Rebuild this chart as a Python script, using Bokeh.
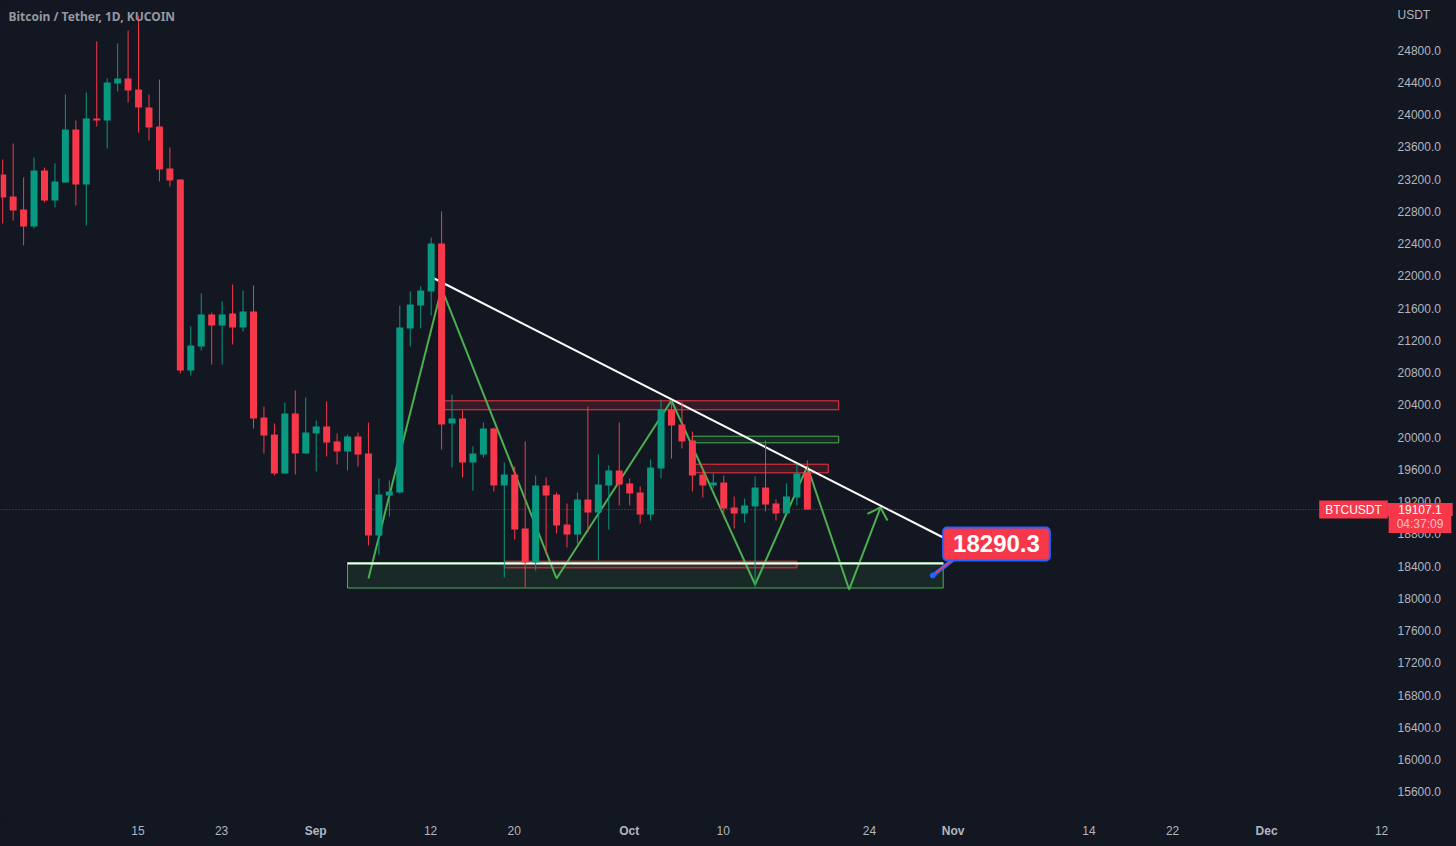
from bokeh.plotting import figure
from bokeh.models import (ColumnDataSource, Label, FixedTicker, LinearAxis)
from bokeh.embed import file_html
from bokeh.resources import INLINE

# Daily candles from 2022-08-02 (day index 0)
opens = [23262,22990,22828,22618,23312,22940,23163,23820,23138,23957,23932,24391,24453,24316,24093,23858,23337,23200,
         20832,21130,21526,21390,21539,21365,21564,20249,20038,19555,20299,19803,20051,20138,19952,19828,20014,19803,
         18786,19282,19319,21353,21638,21812,22407,20175,20237,19691,19790,20113,19406,19542,18873,18451,19406,19294,
         18922,18798,19232,19071,19406,19592,19431,19319,19046,19617,20348,20162,19964,19542,19406,19443,19133,19059,
         19146,19381,19183,19059,19257,19567]
highs = [23448,23647,23225,23473,23349,23399,24254,23932,24279,24912,24453,24887,25048,25234,24254,24440,23597,23200,
         21378,21787,21551,21688,21898,21824,21886,20386,20175,20435,20584,20497,20212,20448,20051,20038,20063,20187,
         19493,19468,21638,21812,21874,22481,22804,20534,20336,19890,20187,20125,19691,19642,19952,19530,19505,19319,
         19183,19319,20386,19790,19654,20187,19493,19394,19728,20472,20460,20448,20076,19629,19555,19530,19270,19245,
         19518,19964,19232,19431,19679,19716]
lows = [22655,22692,22382,22593,22915,22853,23163,22878,22630,23858,23585,24292,24155,23783,23684,23176,23114,20795,
        20770,21080,20906,20906,21154,21316,20113,19803,19530,19555,19542,19803,19580,19766,19666,19592,19642,18662,
        18550,19022,19307,21130,21353,21514,19852,19629,19505,19344,19753,19332,18265,18736,18141,18352,18550,18811,
        18637,18687,18823,18476,18860,19158,19158,18935,18972,19493,19741,19865,19332,19257,19369,19034,18873,18947,
        18141,19084,18972,19059,19158,19107.1]
closes = [22977,22816,22618,23312,22940,23176,23820,23138,23957,23932,24403,24453,24304,24093,23845,23324,23188,20832,
          21142,21526,21390,21526,21365,21564,20237,20026,19555,20299,19803,20063,20138,19939,19828,20014,19790,18786,
          19294,19332,21365,21650,21824,22407,20162,20237,19691,19803,20113,19406,19542,18860,18451,19406,19282,18910,
          18798,19232,19071,19418,19592,19418,19307,19046,19629,20348,20150,19952,19530,19406,19443,19121,19059,19158,
          19381,19170,19059,19270,19555,19107.1]

last_price = 19107.1
callout_price = 18290.3

# Axis ticks
price_ticks = [15600,16000,16400,16800,17200,17600,18000,18400,18800,19200,19600,20000,20400,20800,21200,21600,
               22000,22400,22800,23200,23600,24000,24400,24800]
day_ticks = {13:"15", 21:"23", 41:"12", 49:"20", 69:"10", 83:"24", 104:"14", 112:"22", 132:"12"}
month_ticks = {30:"Sep", 60:"Oct", 91:"Nov", 121:"Dec"}

# Drawings: day index / price
zigzag_days = [35,42,53,64,72,77,81,84]
zigzag_prices = [18253,21849,18253,20460,18178,19642,18116,19133]
arrow_days = [82.75,84,84.67]
arrow_prices = [19053,19133,18972]
trend_days = [41.3,90]
trend_prices = [21973,18761]
support_days = [33,90]
support_price = 18439
box_green = [33,90,18135,18451]
box_r1 = [42,80,20345,20456]
box_g1 = [66,80,19935,20017]
box_r2 = [66,79,19563,19670]
box_r3 = [48,76,18385,18467]

BG = "#131722"; RED = "#f7374a"; GREEN = "#089981"; LINE_G = "#4caf50"; TXT = "#b2b5be"; BLUE = "#2962ff"
X_NUDGE = -0.05   # tick labels sit slightly left of the candle centre
Y_NUDGE = 6       # and slightly above the true price level

p = figure(width=1456, height=846, output_backend="svg", toolbar_location=None,
           x_range=(-0.21, 139.12), y_range=(15301.6, 25420),
           min_border=0, min_border_bottom=30,
           background_fill_color=BG, border_fill_color=BG, outline_line_color=None,
           x_axis_location=None, y_axis_location="right")
p.grid.visible = False

ya = p.yaxis[0]
ya.fixed_location = 133
nudged_prices = [t + Y_NUDGE for t in price_ticks]
ya.ticker = FixedTicker(ticks=nudged_prices)
ya.major_label_overrides = {t + Y_NUDGE: f"{t}.0" for t in price_ticks}
ya.axis_line_color = None
ya.major_tick_line_color = None
ya.minor_tick_line_color = None
ya.major_tick_out = 0
ya.major_tick_in = 0
ya.major_label_standoff = 5
ya.major_label_text_color = TXT
ya.major_label_text_font = "Liberation Sans"
ya.major_label_text_font_size = "12px"

def bottom_axis(ticks, standoff, style):
    pos = {k + X_NUDGE: v for k, v in ticks.items()}
    ax = LinearAxis(ticker=FixedTicker(ticks=list(pos)), major_label_overrides=pos)
    ax.axis_line_color = None
    ax.major_tick_line_color = None
    ax.minor_tick_line_color = None
    ax.major_tick_out = 0
    ax.major_label_standoff = standoff
    ax.major_label_text_color = TXT
    ax.major_label_text_font = "Liberation Sans"
    ax.major_label_text_font_size = "12px"
    ax.major_label_text_font_style = style
    p.add_layout(ax, "below")

bottom_axis(day_ticks, 9, "normal")
bottom_axis(month_ticks, -14, "bold")

def box(b, color, fill_alpha):
    p.quad(left=[b[0]], right=[b[1]], bottom=[b[2]], top=[b[3]], fill_color=color, fill_alpha=fill_alpha,
           line_color=color, line_width=1)

box(box_green, LINE_G, 0.12)
box(box_r1, "#f23645", 0.15)
box(box_g1, LINE_G, 0.12)
box(box_r2, "#f23645", 0.15)
box(box_r3, "#f23645", 0.15)

p.line(zigzag_days, zigzag_prices, line_color=LINE_G, line_width=2)
p.line(arrow_days, arrow_prices, line_color=LINE_G, line_width=2)
p.line(trend_days, trend_prices, line_color="#ffffff", line_width=2)
p.line(support_days, [support_price, support_price], line_color="#ffffff", line_width=2)

# Candles
days = list(range(len(opens)))
colors = [GREEN if c >= o else RED for o, c in zip(opens, closes)]
src = ColumnDataSource(dict(x=days, o=opens, h=highs, l=lows, c=closes, col=colors))
p.segment("x", "h", "x", "l", source=src, line_color="col", line_width=1)
p.vbar("x", width=0.67, top="o", bottom="c", source=src, fill_color="col", line_color=None)

# Last-price line
p.line([-0.21, 126], [last_price, last_price], line_color="#f23645", line_width=1,
       line_dash=[1, 2], line_alpha=0.8)

# Callout
p.line([89, 90.9], [callout_price, 18480], line_color=BLUE, line_width=4)
p.line([89.3, 90.9], [18325, 18480], line_color=RED, line_width=1.5)
p.scatter([89], [callout_price], size=5, fill_color=BLUE, line_color=BLUE)
p.add_layout(Label(x=95.1, y=18681, text=f"{callout_price}", text_color="#ffffff", text_font="Liberation Sans",
                   text_font_style="bold", text_font_size="24px", text_align="center", text_baseline="middle",
                   background_fill_color=RED, border_line_color=BLUE, border_line_width=2,
                   border_radius=4, padding=dict(x=10, y=8)))

def tag(x, y, text, px, py, color="#ffffff", alpha=1.0):
    p.add_layout(Label(x=x, y=y, x_units="screen", text=text, text_color=color, text_alpha=alpha,
                       text_font="Liberation Sans", text_font_size="12px", text_align="center",
                       text_baseline="middle", background_fill_color=RED, padding=dict(x=px, y=py)))

tag(1353, last_price, "BTCUSDT", 6, 2)
tag(1419.5, 18928, "04:37:09", 8, 2, alpha=0.7)
tag(1419.5, last_price, "19107.1", 11, 2)

p.add_layout(Label(x=1397, y=25246, x_units="screen", text="USDT", text_color=TXT, text_font="Liberation Sans",
                   text_font_size="12px", text_baseline="middle"))
p.add_layout(Label(x=8, y=25222, x_units="screen", text="Bitcoin / Tether, 1D, KUCOIN", text_color="#9598a1",
                   text_font="Noto Sans", text_font_style="bold", text_font_size="12px", text_baseline="middle"))

html = file_html(p, INLINE)
html = html.replace("<head>", "<head><style>html,body{margin:0;padding:0;background:#131722;overflow:hidden}</style>", 1)
open("out.html", "w").write(html)
